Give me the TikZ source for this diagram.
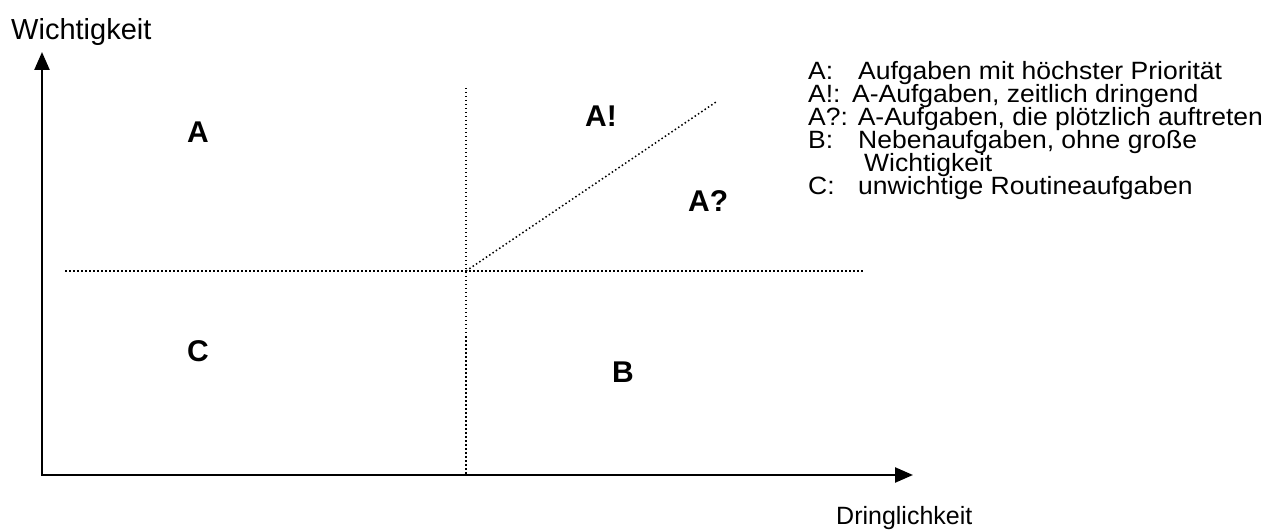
\documentclass[tikz,border=0pt]{standalone}
\usepackage{fontspec}
\setmainfont{Liberation Sans}
\newfontfamily\legfont[FakeStretch=1.06]{Liberation Sans}
\usetikzlibrary{arrows.meta}
\tikzset{
  axis/.style={line width=2.4bp, {Triangle[length=18bp,width=15bp]}-{Triangle[length=18bp,width=15bp]}},
  dotline/.style={line width=1.5bp, dash pattern=on 1.5bp off 2.5bp},
  quad/.style={anchor=base west, inner sep=0pt, font=\fontsize{30bp}{34bp}\selectfont\bfseries},
  txt/.style={anchor=base west, inner sep=0pt, font=\fontsize{25bp}{28bp}\selectfont},
  legtxt/.style={anchor=base west, inner sep=0pt, font=\legfont\fontsize{25bp}{23bp}\selectfont},
}
\begin{document}
\begin{tikzpicture}[x=1bp,y=-1bp]
\useasboundingbox (0,0) rectangle (1266,530);
% axes
\coordinate (O) at (42,475);
\coordinate (Ytip) at (42,52);
\coordinate (Xtip) at (913,475);
\draw[axis] (Ytip) -- (O) -- (Xtip);
% dotted lines
\coordinate (C0) at (466,271);
\coordinate (Vtop) at (466,88);
\coordinate (Vbot) at (466,475);
\coordinate (Hl) at (65,271);
\coordinate (Hr) at (865,271);
\coordinate (Dtop) at (716,102);
\draw[dotline] (Vtop) -- (Vbot);
\draw[dotline] (Hl) -- (Hr);
\draw[dotline] (C0) -- (Dtop);
% axis labels
\node[txt, font=\fontsize{29bp}{32bp}\selectfont] (ylab) at (11,40) {Wichtigkeit};
\node[txt] (xlab) at (836,524) {Dringlichkeit};
% quadrant labels
\node[quad] (qA) at (187,143) {A};
\node[quad] (qAx) at (585,127) {A!};
\node[quad] (qAq) at (688,212) {A?};
\node[quad] (qC) at (187,362) {C};
\node[quad] (qB) at (612,383) {B};
% legend
\node[legtxt] (l1a) at (808,80) {A:};
\node[legtxt] (l1b) at (858,80) {Aufgaben mit höchster Priorität};
\node[legtxt] (l2a) at (808,103) {A!:};
\node[legtxt] (l2b) at (852,103) {A-Aufgaben, zeitlich dringend};
\node[legtxt] (l3) at (808,126) {A?: A-Aufgaben, die plötzlich auftreten};
\node[legtxt] (l4a) at (808,149) {B:};
\node[legtxt] (l4b) at (858,149) {Nebenaufgaben, ohne große};
\node[legtxt] (l5b) at (864,172) {Wichtigkeit};
\node[legtxt] (l6a) at (808,195) {C:};
\node[legtxt] (l6b) at (858,195) {unwichtige Routineaufgaben};
\end{tikzpicture}
\end{document}
